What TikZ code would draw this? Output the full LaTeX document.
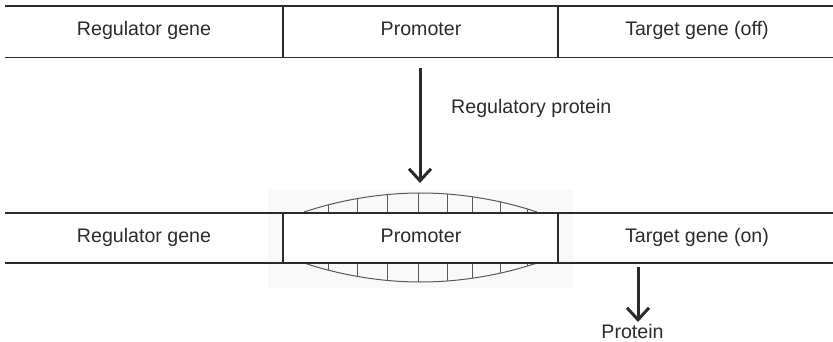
\documentclass[tikz,border=0pt]{standalone}
\usepackage{fontspec}
\setmainfont{Liberation Sans}
\usetikzlibrary{arrows.meta}
\definecolor{ink}{HTML}{2B2B2B}
\definecolor{haze}{HTML}{F9F9F9}
\begin{document}
\begin{tikzpicture}[x=1pt,y=-1pt,
  label/.style={inner sep=0pt,anchor=base,text=ink,font=\fontsize{19.6}{22}\selectfont},
  band/.style={line width=1.3pt,draw=ink},
  hinge/.style={line width=1pt,draw=black!65},
  flow/.style={line width=3pt,draw=ink,-{Straight Barb[length=12pt,width=22pt,line width=3pt]}}]
\useasboundingbox (0,0) rectangle (833,342);

% --- gene before binding ---
\draw[band] (5,6) -- (833,6) (5,57.5) -- (833,57.5);
\draw[band] (283,6) -- (283,57.5) (558,6) -- (558,57.5);
\node[label] (reg1) at (144,36) {Regulator gene};
\node[label] (pro1) at (421,36) {Promoter};
\node[label] (tar1) at (697,36) {Target gene (off)};

% --- bound regulatory protein around the promoter ---
\fill[haze] (268,190) rectangle (573,288);
\fill[white] (283,213) rectangle (558,263);
\draw[hinge] (304,212) parabola bend (420.5,193) (537,212);
\draw[hinge] (304,263) parabola bend (420.5,282) (537,263);
\foreach \tx in {328,357,387,418,447,472,500,527}{
  \pgfmathsetmacro{\dy}{19*((\tx-420.5)/116.5)^2}
  \draw[hinge] (\tx,193+\dy) -- (\tx,213);
  \draw[hinge] (\tx,263) -- (\tx,282-\dy);
}

% --- gene after binding ---
\draw[band] (5,213) -- (833,213) (5,263) -- (833,263);
\draw[band] (283,213) -- (283,263) (558,213) -- (558,263);
\node[label] (reg2) at (144,242) {Regulator gene};
\node[label] (pro2) at (421,242) {Promoter};
\node[label] (tar2) at (697,242) {Target gene (on)};

% --- arrows and their labels ---
\coordinate (rpStart) at (420,68);
\coordinate (rpEnd) at (420,183);
\draw[flow] (rpStart) -- (rpEnd);
\node[label,anchor=base west] (rpLabel) at (451,113.5) {Regulatory protein};

\coordinate (pStart) at (638,267);
\coordinate (pEnd) at (638,322);
\draw[flow] (pStart) -- (pEnd);
\node[label] (pLabel) at (632.5,338) {Protein};
\end{tikzpicture}
\end{document}
